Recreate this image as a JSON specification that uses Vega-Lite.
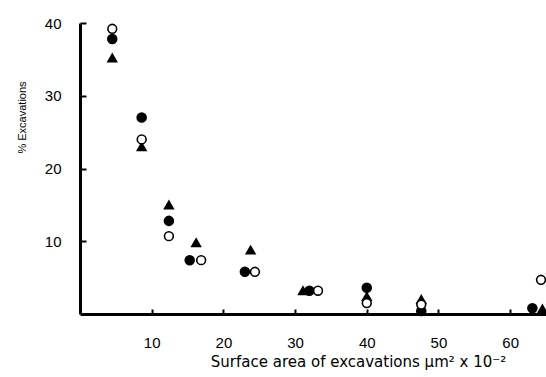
{
  "$schema": "https://vega.github.io/schema/vega-lite/v6.json",
  "width": 466,
  "height": 291,
  "autosize": {"type": "none"},
  "padding": {"left": 80, "top": 23, "right": 0, "bottom": 63},
  "background": "white",
  "config": {"view": {"stroke": null}, "font": "Liberation Sans"},
  "data": {"values": [
    {"x": 4.5, "y": 37.8, "s": "A"},
    {"x": 8.6, "y": 27.0, "s": "A"},
    {"x": 12.4, "y": 12.8, "s": "A"},
    {"x": 15.3, "y": 7.4, "s": "A"},
    {"x": 23.0, "y": 5.8, "s": "A"},
    {"x": 32.0, "y": 3.2, "s": "A"},
    {"x": 40.0, "y": 3.6, "s": "A"},
    {"x": 47.6, "y": 0.4, "s": "A"},
    {"x": 63.1, "y": 0.8, "s": "A"},
    {"x": 4.5, "y": 35.2, "s": "C"},
    {"x": 8.6, "y": 23.0, "s": "C"},
    {"x": 12.4, "y": 15.0, "s": "C"},
    {"x": 16.2, "y": 9.8, "s": "C"},
    {"x": 23.8, "y": 8.8, "s": "C"},
    {"x": 31.1, "y": 3.2, "s": "C"},
    {"x": 40.0, "y": 2.4, "s": "C"},
    {"x": 47.6, "y": 2.0, "s": "C"},
    {"x": 64.5, "y": 0.7, "s": "C"},
    {"x": 4.5, "y": 39.2, "s": "B"},
    {"x": 8.6, "y": 24.0, "s": "B"},
    {"x": 12.4, "y": 10.7, "s": "B"},
    {"x": 16.9, "y": 7.4, "s": "B"},
    {"x": 24.4, "y": 5.8, "s": "B"},
    {"x": 33.2, "y": 3.2, "s": "B"},
    {"x": 40.0, "y": 1.5, "s": "B"},
    {"x": 47.6, "y": 1.3, "s": "B"},
    {"x": 64.3, "y": 4.7, "s": "B"}
  ]},
  "mark": {"type": "point", "filled": true, "stroke": "black", "strokeWidth": 1.6, "opacity": 1},
  "encoding": {
    "x": {
      "field": "x", "type": "quantitative",
      "scale": {"domain": [0, 65], "nice": false, "zero": false},
      "axis": {
        "values": [10, 20, 30, 40, 50, 60],
        "title": "Surface area of excavations μm² x 10⁻²",
        "titleFont": "DejaVu Sans",
        "titleFontSize": 15, "titleFontWeight": "normal", "titleColor": "black",
        "titleBaseline": "middle", "titleY": 47, "titleX": 278, "titleAnchor": null,
        "labelFontSize": 15, "labelColor": "black", "labelPadding": 26,
        "tickSize": -5, "tickWidth": 2, "tickColor": "black",
        "domainWidth": 3, "domainColor": "black", "grid": false
      }
    },
    "y": {
      "field": "y", "type": "quantitative",
      "scale": {"domain": [0, 40], "nice": false},
      "axis": {
        "values": [10, 20, 30, 40],
        "title": "% Excavations",
        "titleFontSize": 11, "titleFontWeight": "normal", "titleColor": "black",
        "titleX": -58, "titleY": 94, "titleBaseline": "middle", "titleAlign": "center",
        "labelFontSize": 15, "labelColor": "black", "labelPadding": 25,
        "tickSize": -6, "tickWidth": 2, "tickColor": "black",
        "domainWidth": 3, "domainColor": "black", "grid": false
      }
    },
    "shape": {"field": "s", "type": "nominal", "scale": {"domain": ["A", "B", "C"], "range": ["circle", "circle", "triangle-up"]}, "legend": null},
    "fill": {"field": "s", "type": "nominal", "scale": {"domain": ["A", "B", "C"], "range": ["black", "white", "black"]}, "legend": null},
    "size": {"field": "s", "type": "nominal", "scale": {"domain": ["A", "B", "C"], "range": [80, 75, 55]}, "legend": null}
  }
}
